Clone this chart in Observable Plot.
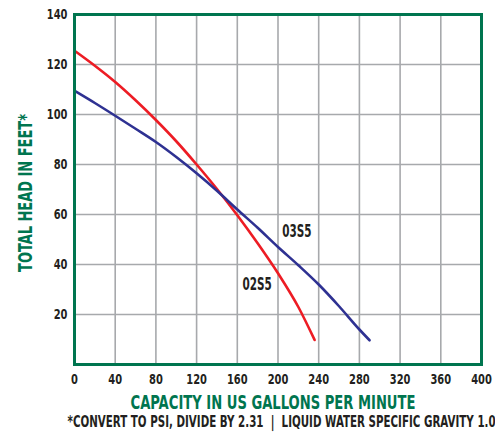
<!DOCTYPE html>
<html>
<head>
<meta charset="utf-8">
<script src="https://cdn.jsdelivr.net/npm/d3@7"></script>
<script src="https://cdn.jsdelivr.net/npm/@observablehq/plot@0.6"></script>
<style>
  html, body { margin: 0; padding: 0; background: #fff; }
  #chart svg { display: block; }
</style>
</head>
<body>
<div id="chart"></div>
<script>
// Pump curve 02S5 (red)
const gpm02  = [0, 20, 40, 60, 80, 100, 120, 140, 160, 180, 200, 220, 236];
const head02 = [125.5, 119.5, 113, 105.7, 97.8, 89.3, 80, 70.2, 59.7, 48.5, 36.5, 23, 9.8];
// Pump curve 03S5 (blue)
const gpm03  = [0, 20, 40, 60, 80, 100, 120, 140, 160, 180, 200, 220, 240, 260, 280, 290];
const head03 = [109.5, 104.6, 99.5, 94.3, 89, 83, 76.5, 69.5, 62, 54.7, 47, 39.7, 32, 23.3, 14, 9.7];
// Axis ticks
const xTicks = [0, 40, 80, 120, 160, 200, 240, 280, 320, 360, 400];
const yTicks = [20, 40, 60, 80, 100, 120, 140];
const xGrid = [40, 80, 120, 160, 200, 240, 280, 320, 360];
const yGrid = [20, 40, 60, 80, 100, 120];
// Series labels
const seriesNames = ["02S5", "03S5"];
const labelX = [179.5, 218.5];
const labelY = [32, 53];
// Texts
const yTitle = "TOTAL HEAD IN FEET*";
const xTitle = "CAPACITY IN US GALLONS PER MINUTE";
const footnote = "*CONVERT TO PSI, DIVIDE BY 2.31  |  LIQUID WATER SPECIFIC GRAVITY 1.0";

const GREEN = "#00754f";
const RED = "#ed1c24";
const BLUE = "#2e3192";
const GRAY = "#a7a9ac";
const INK = "#231f20";

const d02 = gpm02.map((x, i) => ({x, y: head02[i]}));
const d03 = gpm03.map((x, i) => ({x, y: head03[i]}));
const labels = seriesNames.map((name, i) => ({name, x: labelX[i], y: labelY[i]}));

const svg = Plot.plot({
  width: 495,
  height: 434,
  marginLeft: 74,
  marginRight: 14,
  marginTop: 14,
  marginBottom: 70,
  style: {fontFamily: "'DejaVu Sans Condensed', 'DejaVu Sans', sans-serif", fontWeight: "bold", background: "#fff"},
  x: {domain: [0, 400]},
  y: {domain: [0, 140]},
  marks: [
    Plot.gridX(xGrid, {stroke: GRAY, strokeOpacity: 1, strokeWidth: 1.6}),
    Plot.gridY(yGrid, {stroke: GRAY, strokeOpacity: 1, strokeWidth: 1.6}),
    Plot.axisX({ticks: xTicks, tickSize: 0, tickPadding: 10, fontSize: 13.7, fill: INK, label: null}),
    Plot.axisY({ticks: yTicks, tickSize: 0, tickPadding: 7, fontSize: 13.7, fill: INK, label: null}),
    Plot.line(d02, {x: "x", y: "y", stroke: RED, strokeWidth: 2.6, curve: "monotone-x"}),
    Plot.line(d03, {x: "x", y: "y", stroke: BLUE, strokeWidth: 2.6, curve: "monotone-x"}),
    Plot.text(labels, {x: "x", y: "y", text: "name", fontSize: 16.8, fill: INK}),
    Plot.frame({stroke: GREEN, strokeWidth: 3}),
    Plot.text([yTitle], {frameAnchor: "left", textAnchor: "middle", rotate: -90, dx: -48.7, dy: 3.5, fontSize: 19, fill: GREEN}),
    Plot.text([xTitle], {frameAnchor: "bottom", textAnchor: "middle", dx: -5, dy: 44, fontSize: 20, fill: GREEN}),
    Plot.text([footnote], {frameAnchor: "bottom-left", textAnchor: "start", dx: -7, dy: 62.5, fontSize: 15.7, fill: INK})
  ]
});

document.getElementById("chart").appendChild(svg);

// Emulate the condensed typeface of the original by squeezing text horizontally
function condense(el, s) {
  const xa = el.getAttribute("x");
  let x = 0;
  if (xa !== null && !isNaN(+xa)) { x = +xa; el.removeAttribute("x"); }
  const t = el.getAttribute("transform") || "";
  el.setAttribute("transform", `${t} translate(${x},0) scale(${s},1)`);
}
const targets = {[yTitle]: 158, [xTitle]: 285, [footnote]: 428};
const texts = Array.from(svg.querySelectorAll("text"));
let tickScale = 0.75;
const ref140 = texts.find(el => el.textContent === "140");
if (ref140) tickScale = 20.7 / ref140.getComputedTextLength();
const ref03 = texts.find(el => el.textContent === "03S5");
const labelScale = ref03 ? 29.3 / ref03.getComputedTextLength() : tickScale;
texts.forEach(el => {
  const t = el.textContent;
  const len = el.getComputedTextLength();
  if (targets[t]) condense(el, targets[t] / len);
  else if (seriesNames.includes(t)) condense(el, labelScale);
  else condense(el, tickScale);
});
</script>
</body>
</html>
